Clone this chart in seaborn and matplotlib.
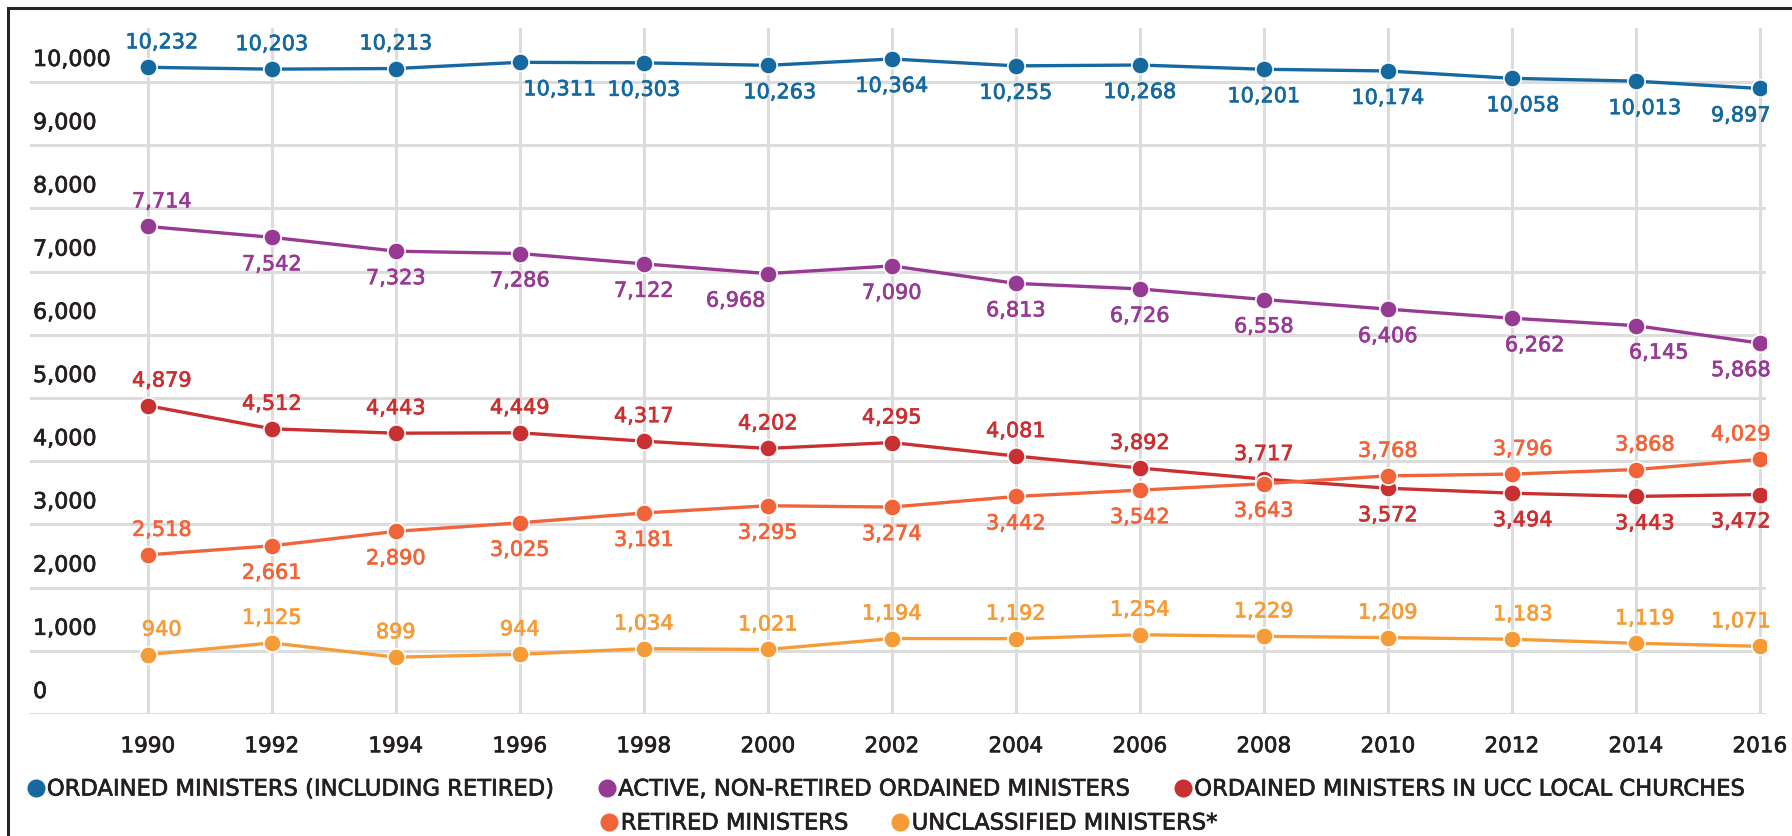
import pandas as pd
import matplotlib
matplotlib.use("Agg")
import matplotlib.pyplot as plt
import matplotlib.patheffects as pe
from matplotlib.lines import Line2D
from matplotlib.patches import Rectangle
import seaborn as sns

# chart data
years = [1990, 1992, 1994, 1996, 1998, 2000, 2002, 2004, 2006, 2008, 2010, 2012, 2014, 2016]
ordained_all = [10232, 10203, 10213, 10311, 10303, 10263, 10364, 10255, 10268, 10201, 10174, 10058, 10013, 9897]
active = [7714, 7542, 7323, 7286, 7122, 6968, 7090, 6813, 6726, 6558, 6406, 6262, 6145, 5868]
local_churches = [4879, 4512, 4443, 4449, 4317, 4202, 4295, 4081, 3892, 3717, 3572, 3494, 3443, 3472]
retired = [2518, 2661, 2890, 3025, 3181, 3295, 3274, 3442, 3542, 3643, 3768, 3796, 3868, 4029]
unclassified = [940, 1125, 899, 944, 1034, 1021, 1194, 1192, 1254, 1229, 1209, 1183, 1119, 1071]

series_names = [
    "ORDAINED MINISTERS (INCLUDING RETIRED)",
    "ACTIVE, NON-RETIRED ORDAINED MINISTERS",
    "ORDAINED MINISTERS IN UCC LOCAL CHURCHES",
    "RETIRED MINISTERS",
    "UNCLASSIFIED MINISTERS*",
]
series_values = [ordained_all, active, local_churches, retired, unclassified]
y_ticks = list(range(0, 10001, 1000))

# styling / label placement (not data)
colors = ["#15699e", "#973a93", "#c93032", "#f1643a", "#f59b38"]
# +1 = value label above the point, -1 = below
label_side = [
    [1, 1, 1] + [-1] * 11,
    [1] + [-1] * 13,
    [1] * 10 + [-1] * 4,
    [1] + [-1] * 9 + [1] * 4,
    [1] * 14,
]
# horizontal nudge of value labels per year column (pixels)
column_nudge = [14, 0, 0, 0, 0, 0, 0, 0, 0, 0, 0, 11, 9, -19]
extra_nudge = {(0, 3): 40, (0, 5): 12, (1, 5): -32, (1, 11): 12, (1, 12): 14}

PX = 72 / 100  # pixels -> points at dpi 100

def heavier(color):
    # a thin stroke makes DejaVu look closer to the medium weight of the original
    return [pe.withStroke(linewidth=0.5, foreground=color)]

df = pd.DataFrame({
    "year": years * len(series_names),
    "count": [v for vals in series_values for v in vals],
    "series": [n for n in series_names for _ in years],
})

sns.set_style("white")
plt.rcParams["font.family"] = ["DejaVu Sans"]
text_color = "#231f20"

fig = plt.figure(figsize=(17.92, 8.36), dpi=100)
ax = fig.add_axes([30 / 1792, 1 - 714 / 836, (1766 - 30) / 1792, (714 - 28) / 836])

sns.lineplot(
    data=df, x="year", y="count", hue="series", hue_order=series_names,
    palette=colors, marker="o", markersize=12.5, linewidth=2.4,
    markeredgecolor="white", markeredgewidth=1.2, legend=False, ax=ax, zorder=3,
)

ax.set_xlim(1988.1, 2016.1)
ax.set_ylim(0, 10854)
ax.set_xticks(years)
ax.set_xticklabels([str(y) for y in years], fontsize=15.5, color=text_color)
for lbl in ax.get_xticklabels():
    lbl.set_path_effects(heavier(text_color))
ax.set_yticks(y_ticks)
ax.set_yticklabels([])
ax.tick_params(axis="both", length=0)
ax.tick_params(axis="x", pad=16)
ax.set_xlabel("")
ax.set_ylabel("")
for s in ax.spines.values():
    s.set_visible(False)
ax.grid(True, color="#dcdcdc", linewidth=2.2)
ax.set_axisbelow(True)

# y labels sit above their gridlines
for t in y_ticks:
    ax.annotate(f"{t:,}", (0, t), xycoords=("axes fraction", "data"),
                xytext=(3 * PX, 22 * PX), textcoords="offset points",
                ha="left", va="center", fontsize=16, color=text_color,
                path_effects=heavier(text_color))

# value labels
for si, vals in enumerate(series_values):
    for i, (yr, v) in enumerate(zip(years, vals)):
        dx = column_nudge[i] + extra_nudge.get((si, i), 0)
        dy = 25 if label_side[si][i] > 0 else -27
        ax.annotate(f"{v:,}", (yr, v), xytext=(dx * PX, dy * PX),
                    textcoords="offset points", ha="center", va="center",
                    fontsize=15, color=colors[si],
                    path_effects=heavier(colors[si]))

handles = [Line2D([], [], linestyle="none", marker="o", markersize=12,
                  markerfacecolor=c, markeredgecolor=c) for c in colors]
leg_kw = dict(loc="center", frameon=False, handlelength=0.7, handletextpad=0.15,
              columnspacing=1.9, fontsize=16.3, labelcolor=text_color)
legends = [
    fig.legend(handles[:3], series_names[:3], ncol=3,
               bbox_to_anchor=(887 / 1792, 1 - 789 / 836), **leg_kw),
    fig.legend(handles[3:], series_names[3:], ncol=2,
               bbox_to_anchor=(910 / 1792, 1 - 823 / 836), **leg_kw),
]
for leg in legends:
    for txt in leg.get_texts():
        txt.set_path_effects(heavier(text_color))

# dark frame around the graphic (runs off the right and bottom edges)
fig.patches.append(Rectangle((8 / 1792, -0.05), 1.1, 1 - 8 / 836 + 0.05,
                             transform=fig.transFigure, fill=False,
                             edgecolor="#262626", linewidth=2.2))

fig.savefig("out.png", dpi=100)
